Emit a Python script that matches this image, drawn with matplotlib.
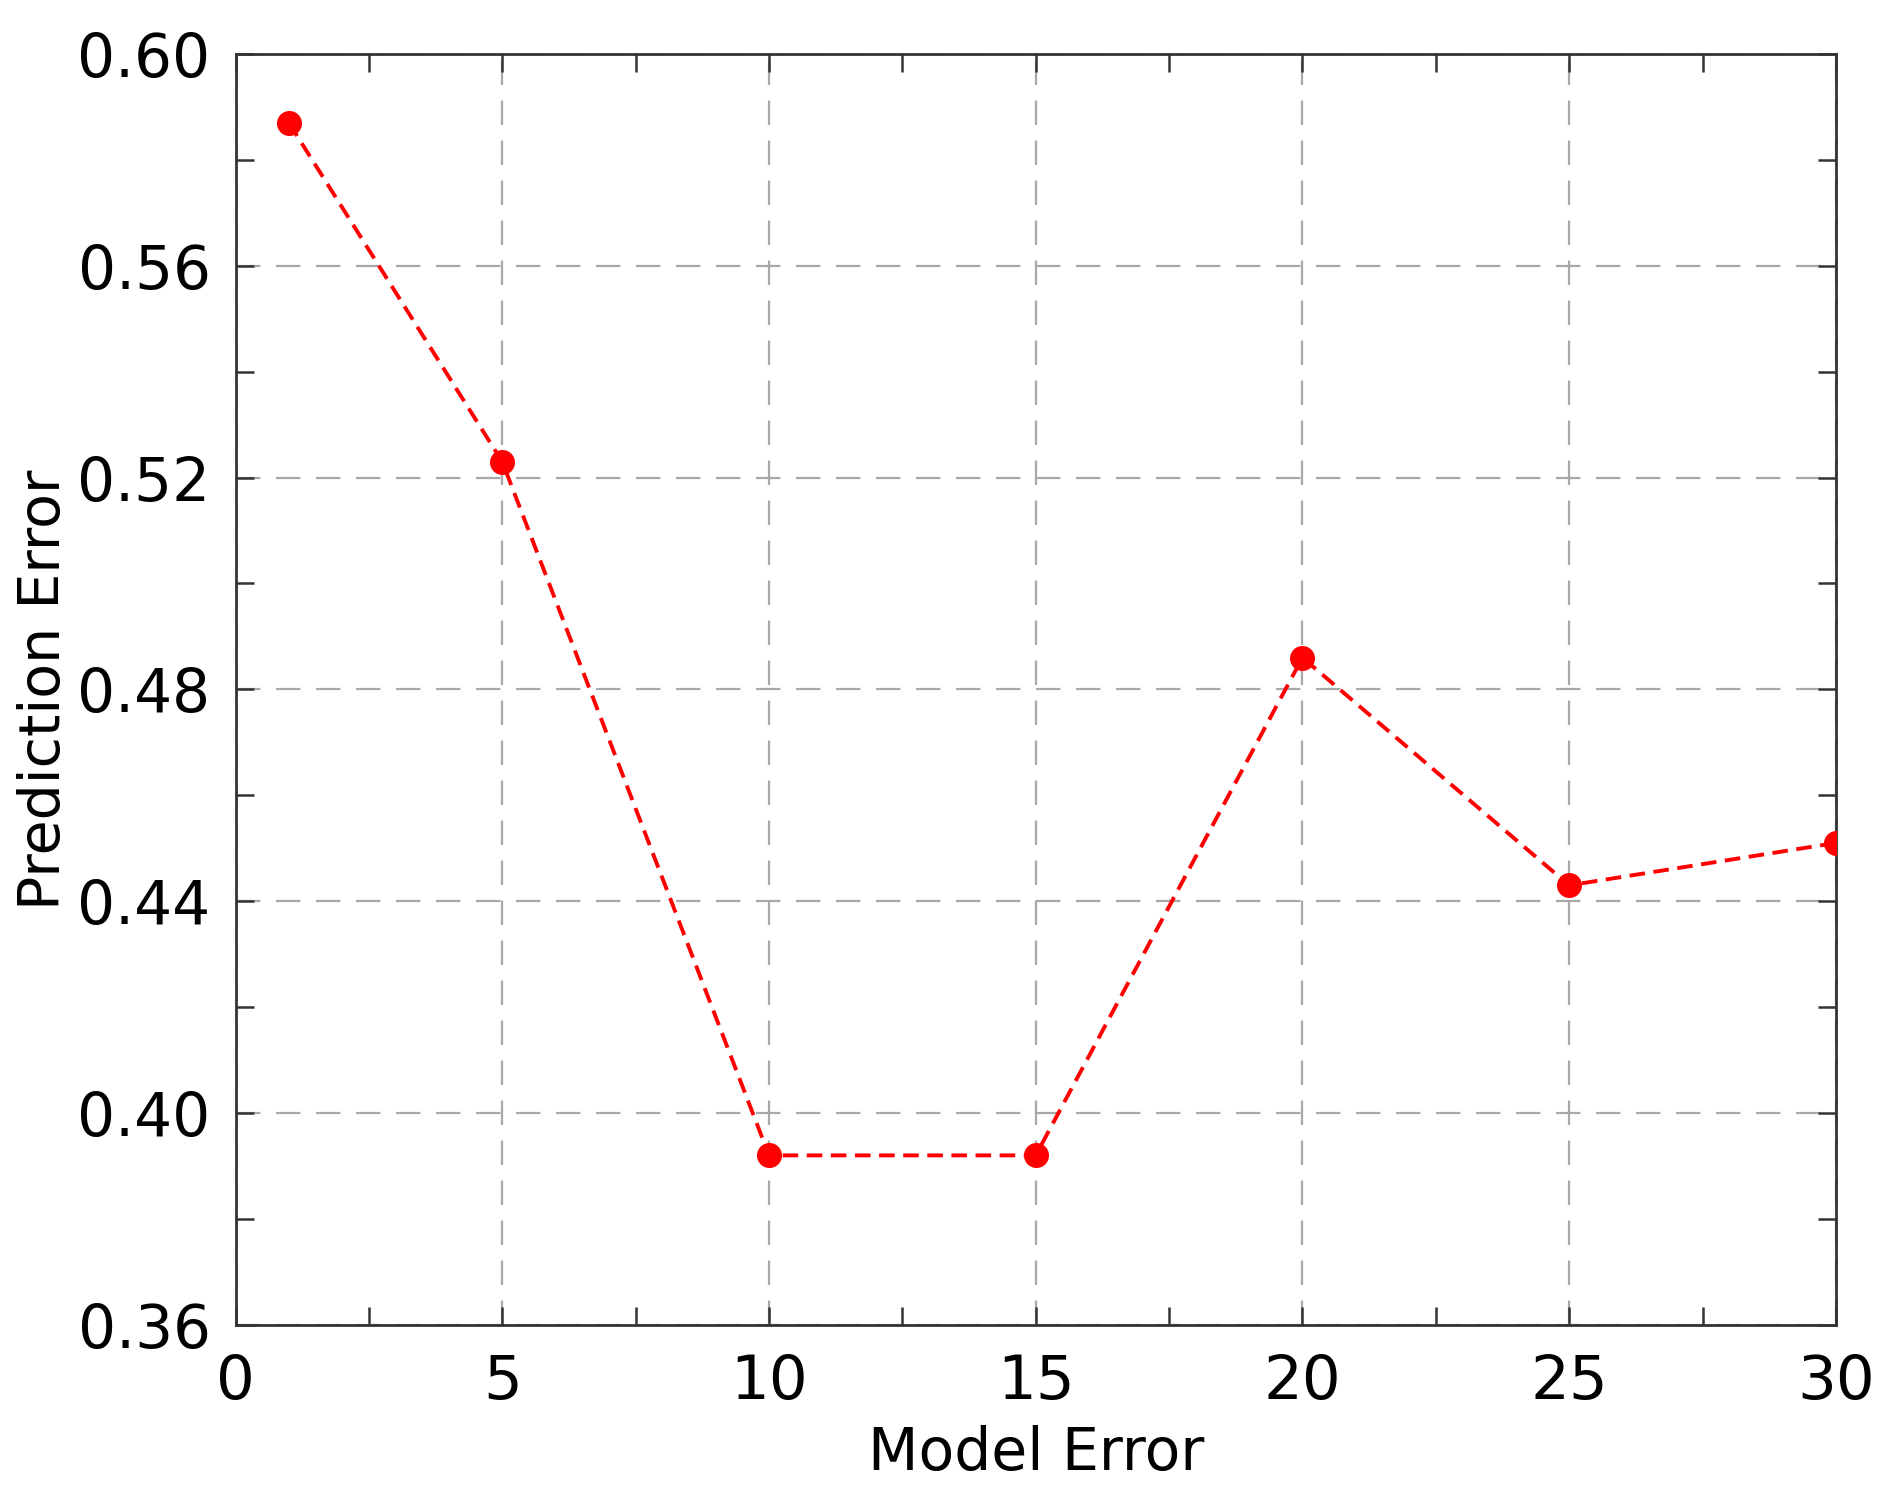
import matplotlib.pyplot as plt
from matplotlib.ticker import MultipleLocator

# Data
model_error = [1, 5, 10, 15, 20, 25, 30]
prediction_error = [0.587, 0.523, 0.392, 0.392, 0.486, 0.443, 0.451]

x_ticks = [0, 5, 10, 15, 20, 25, 30]
y_ticks = [0.36, 0.40, 0.44, 0.48, 0.52, 0.56, 0.60]

plt.rcParams['font.family'] = ['DejaVu Sans']

fig = plt.figure(figsize=(18.84, 14.99), dpi=100)
ax = fig.add_axes([0.125, 0.1162, 0.9745 - 0.125, 0.964 - 0.1162])

ax.plot(model_error, prediction_error, color='#ff0000', ls='--', lw=2.8,
        dashes=(4, 2.2), marker='o', markersize=17, zorder=3)

ax.set_xlim(0, 30)
ax.set_ylim(0.36, 0.60)
ax.set_xticks(x_ticks)
ax.set_yticks(y_ticks)
ax.set_yticklabels([f"{v:.2f}" for v in y_ticks])
ax.xaxis.set_minor_locator(MultipleLocator(2.5))
ax.yaxis.set_minor_locator(MultipleLocator(0.02))

# light grey dashed grid on the labelled ticks only
ax.grid(True, which='major', color='#a8a8a8', ls='--', lw=1.6, dashes=(11, 7))

ax.tick_params(which='both', direction='in', top=True, right=True,
               length=13, width=1.8, color='#333333')
ax.tick_params(axis='x', labelsize=44, pad=20)
ax.tick_params(axis='y', labelsize=43, pad=18)

for s in ax.spines.values():
    s.set_linewidth(2)
    s.set_color('#333333')

ax.set_xlabel("Model Error", fontsize=42, labelpad=10)
ax.set_ylabel("Prediction Error", fontsize=41, labelpad=4)

fig.savefig("out.png", dpi=100, facecolor='white')
